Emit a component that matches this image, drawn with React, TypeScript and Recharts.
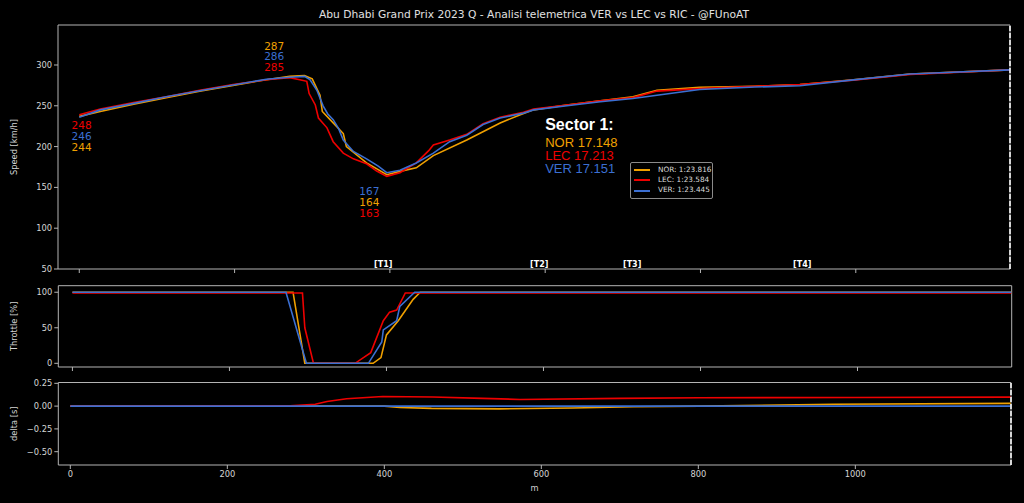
import React from 'react';
import { LineChart, Line, XAxis, YAxis, ReferenceArea, ReferenceLine, ReferenceDot, Legend } from 'recharts';

// driver colours
const NOR_COLOR = '#f0a000';
const LEC_COLOR = '#ee0000';
const VER_COLOR = '#3b6fd2';

const drivers = ['NOR', 'LEC', 'VER'];
const driverColors = [NOR_COLOR, LEC_COLOR, VER_COLOR];
const lapTimes = ['1:23.816', '1:23.584', '1:23.445'];
const sectorTimes = ['17.148', '17.213', '17.151'];

const distTicks = [0, 200, 400, 600, 800, 1000];
const speedTicks = [50, 100, 150, 200, 250, 300];
const throttleTicks = [0, 50, 100];
const deltaTicks = [-0.5, -0.25, 0, 0.25];

// [distance m, speed km/h]
const norSpeed = [
  [0, 237], [27, 243], [70, 252], [112, 260], [155, 268], [198, 275], [241, 282], [271, 286], [290, 287],
  [300, 283], [310, 263], [313, 243], [327, 229], [340, 216], [344, 200], [370, 180], [396, 165.5],
  [413, 169.6], [434, 174], [456, 189], [499, 208], [542, 229], [568, 239], [585, 245], [628, 251],
  [671, 256], [713, 261], [744, 269], [799, 272.7], [870, 274], [928, 276], [997, 282], [1070, 289], [1199, 294],
];
const lecSpeed = [
  [0, 239], [27, 246], [70, 254], [112, 261], [155, 269], [198, 276], [241, 282], [271, 284.5], [284, 282],
  [293, 280], [296, 265], [304, 251], [308, 235], [319, 223], [327, 206], [340, 192], [353, 185], [370, 179],
  [383, 170], [396, 163.5], [413, 168], [434, 180], [450, 195], [456, 202], [477, 208], [499, 215], [520, 228],
  [542, 236], [572, 242], [585, 246], [628, 251], [671, 256], [713, 260], [744, 268], [799, 271], [870, 274],
  [928, 276], [997, 281.5], [1070, 288.5], [1199, 294],
];
const verSpeed = [
  [0, 236], [27, 245], [70, 253], [112, 261], [155, 268.5], [198, 275.5], [241, 282.5], [271, 285], [290, 286],
  [297, 282], [306, 269], [314, 250], [320, 240], [327, 233], [334, 222], [340, 208], [353, 194], [370, 185],
  [385, 176], [396, 168], [413, 171], [434, 180], [456, 192], [477, 206], [499, 214], [520, 227], [542, 235],
  [572, 241], [585, 245], [628, 250], [671, 255], [713, 259], [744, 263], [799, 270], [870, 273], [928, 274.5],
  [997, 281.7], [1070, 289], [1199, 294],
];

// [distance m, throttle %]
const norThrottle = [[0, 100], [281, 100], [296, 0], [383, 0], [393, 8], [400, 40], [415, 60], [434, 90], [443, 100], [1196, 100]];
const lecThrottle = [[0, 99], [293, 99], [296, 50], [307, 0], [360, 0], [380, 15], [396, 60], [404, 72], [413, 75], [424, 99], [1196, 99]];
const verThrottle = [[0, 100], [272, 100], [298, 0], [377, 0], [394, 30], [396, 47], [413, 60], [417, 80], [436, 100], [1196, 100]];

// [distance m, delta s]
const norDelta = [[0, 0], [400, 0], [420, -0.015], [460, -0.025], [547, -0.03], [640, -0.02], [717, -0.007], [802, 0], [972, 0.02], [1198, 0.03]];
const lecDelta = [[0, 0], [280, 0.003], [312, 0.02], [327, 0.05], [352, 0.08], [398, 0.105], [462, 0.1], [525, 0.085], [573, 0.073], [700, 0.085], [802, 0.091], [1000, 0.095], [1198, 0.099]];
const verDelta = [[0, 0], [1198, 0]];

// corner speed callouts: distance, label anchor, speeds per driver
const calloutDist = [3, 251, 373.5];
const calloutY = [226, 323.6, 145];
const norCallout = [244, 287, 164];
const lecCallout = [248, 285, 163];
const verCallout = [246, 286, 167];

const turnLabels = ['[T1]', '[T2]', '[T3]', '[T4]'];
const turnDist = [391.5, 592.4, 712, 931];

const SECTOR_END = 1198.6;
const FONT = 'DejaVu Sans';
const TICK = { fill: '#d4d4d4', fontSize: 8.3, fontFamily: FONT };
const SPINE = '#b4b4b4';

const toPoints = (arr: number[][]) => arr.map(([d, v]) => ({ d, v }));

const speedSeries = [norSpeed, lecSpeed, verSpeed].map(toPoints);
const throttleSeries = [norThrottle, lecThrottle, verThrottle].map(toPoints);
const deltaSeries = [norDelta, lecDelta, verDelta].map(toPoints);

const fmtDelta = (v: number) => (v < 0 ? '\u2212' + Math.abs(v).toFixed(2) : v.toFixed(2));

const LegendBox = () => (
  <div
    style={{
      border: '1px solid #8a8a8a',
      borderRadius: 2,
      background: '#000',
      padding: '2px 3px 2px 3px',
      fontFamily: FONT,
      fontSize: 7.3,
      color: '#dcdcdc',
      lineHeight: '10.2px',
      width: 75,
      whiteSpace: 'nowrap',
    }}
  >
    {drivers.map((d, i) => (
      <div key={d} style={{ display: 'flex', alignItems: 'center' }}>
        <span style={{ display: 'inline-block', flexShrink: 0, width: 16, height: 2, background: driverColors[i], marginRight: 8 }} />
        <span>{`${d}: ${lapTimes[i]}`}</span>
      </div>
    ))}
  </div>
);

const yLabel = (value: string) => ({
  value,
  angle: -90,
  position: 'insideLeft' as const,
  offset: 6,
  style: { textAnchor: 'middle', fill: '#d4d4d4', fontSize: 8.3, fontFamily: FONT },
});

const Frame = ({ x, y }: { x: number[]; y: number[] }) => (
  <ReferenceArea x1={x[0]} x2={x[1]} y1={y[0]} y2={y[1]} fill="none" stroke={SPINE} strokeWidth={1} ifOverflow="visible" />
);

export default function App() {
  const speedX = [-27.4, SECTOR_END];
  const speedY = [50, 349];
  const thrX = [-18, 1196.4];
  const thrY = [-5.2, 109.2];
  const delX = [-15.3, 1198.3];
  const delY = [-0.646, 0.259];

  // stack each callout group by speed, fastest on top
  const callouts = calloutDist.flatMap((d, g) => {
    const entries = [norCallout[g], lecCallout[g], verCallout[g]]
      .map((v, i) => ({ v, color: driverColors[i] }))
      .sort((a, b) => b.v - a.v);
    return entries.map((e, k) => ({ d, y: calloutY[g] - k * 13.1, ...e, key: `${g}-${k}` }));
  });

  return (
    <div style={{ position: 'absolute', left: 0, top: 0, width: 1024, height: 503, background: '#000', overflow: 'hidden' }}>
      <div
        style={{
          position: 'absolute', top: 9, left: 58, width: 952, textAlign: 'center',
          fontFamily: FONT, fontSize: 10.7, lineHeight: '12px', color: '#e0e0e0',
        }}
      >
        Abu Dhabi Grand Prix 2023 Q - Analisi telemetrica VER vs LEC vs RIC - @FUnoAT
      </div>

      {/* speed */}
      <div style={{ position: 'absolute', top: 0, left: 0 }}>
        <LineChart width={1024} height={290} margin={{ top: 25, right: 14, bottom: 1, left: 8 }}>
          <XAxis dataKey="d" type="number" domain={speedX} ticks={distTicks} tickFormatter={() => ''}
            axisLine={false} tickLine={{ stroke: SPINE }} tickSize={4} height={20} allowDataOverflow />
          <YAxis type="number" domain={speedY} ticks={speedTicks} width={50} axisLine={false}
            tickLine={{ stroke: SPINE }} tickSize={4} tickMargin={2} tick={TICK} label={yLabel('Speed [km/h]')} allowDataOverflow />
          <Frame x={speedX} y={speedY} />
          {speedSeries.map((data, i) => (
            <Line key={drivers[i]} data={data} dataKey="v" name={drivers[i]} type="linear" stroke={driverColors[i]}
              strokeWidth={1.6} dot={false} isAnimationActive={false} />
          ))}
          <ReferenceLine x={SECTOR_END} stroke="#fff" strokeWidth={1.5} strokeDasharray="5 2" ifOverflow="visible" />
          {callouts.map((c) => (
            <ReferenceDot key={c.key} x={c.d} y={c.y} r={0} ifOverflow="visible"
              shape={(p: any) => (
                <text x={p.cx} y={p.cy} fill={c.color} fontSize={10.5} fontFamily={FONT} textAnchor="middle" dominantBaseline="central">
                  {c.v}
                </text>
              )} />
          ))}
          {turnLabels.map((t, i) => (
            <ReferenceDot key={t} x={turnDist[i]} y={50} r={0} ifOverflow="visible"
              shape={(p: any) => (
                <text x={p.cx} y={p.cy - 2.5} fill="#fff" fontSize={8} fontWeight="bold" fontFamily={FONT} textAnchor="middle">
                  {t}
                </text>
              )} />
          ))}
          <ReferenceDot x={600} y={227.5} r={0} ifOverflow="visible"
            shape={(p: any) => (
              <g fontFamily="Liberation Sans">
                <text x={p.cx} y={p.cy} fill="#fff" fontSize={16} fontWeight="bold" dominantBaseline="central">Sector 1:</text>
                {drivers.map((d, i) => (
                  <text key={d} x={p.cx} y={p.cy + 18 + i * 13.3} fill={driverColors[i]} fontSize={13} dominantBaseline="central">
                    {`${d} ${sectorTimes[i]}`}
                  </text>
                ))}
              </g>
            )} />
          <Legend content={<LegendBox />} layout="horizontal" verticalAlign="middle" align="center"
            wrapperStyle={{ left: 630, top: 162, width: 84 }} />
        </LineChart>
      </div>

      {/* throttle */}
      <div style={{ position: 'absolute', top: 270, left: 0 }}>
        <LineChart width={1024} height={120} margin={{ top: 15.7, right: 12.3, bottom: 3, left: 8 }}>
          <XAxis dataKey="d" type="number" domain={thrX} ticks={distTicks} tickFormatter={() => ''}
            axisLine={false} tickLine={{ stroke: SPINE }} tickSize={4} height={20} allowDataOverflow />
          <YAxis type="number" domain={thrY} ticks={throttleTicks} width={50.3} axisLine={false}
            tickLine={{ stroke: SPINE }} tickSize={4} tickMargin={2} tick={TICK} label={yLabel('Throttle [%]')} allowDataOverflow />
          <Frame x={thrX} y={thrY} />
          {throttleSeries.map((data, i) => (
            <Line key={drivers[i]} data={data} dataKey="v" name={drivers[i]} type="linear" stroke={driverColors[i]}
              strokeWidth={1.6} dot={false} isAnimationActive={false} />
          ))}
        </LineChart>
      </div>

      {/* delta */}
      <div style={{ position: 'absolute', top: 370, left: 0 }}>
        <LineChart width={1024} height={133} margin={{ top: 12.5, right: 13, bottom: 8, left: 8 }}>
          <XAxis dataKey="d" type="number" domain={delX} ticks={distTicks} tick={TICK}
            axisLine={false} tickLine={{ stroke: SPINE }} tickSize={4} tickMargin={2} height={30} allowDataOverflow
            label={{ value: 'm', position: 'insideBottom', offset: 4, fill: '#d4d4d4', fontSize: 8.3, fontFamily: FONT }} />
          <YAxis type="number" domain={delY} ticks={deltaTicks} width={50.3} axisLine={false} tickFormatter={fmtDelta}
            tickLine={{ stroke: SPINE }} tickSize={4} tickMargin={2} tick={TICK} label={yLabel('delta [s]')} allowDataOverflow />
          <Frame x={delX} y={delY} />
          {deltaSeries.map((data, i) => (
            <Line key={drivers[i]} data={data} dataKey="v" name={drivers[i]} type="linear" stroke={driverColors[i]}
              strokeWidth={1.6} dot={false} isAnimationActive={false} />
          ))}
          <ReferenceLine x={1198.3} stroke="#fff" strokeWidth={1.5} strokeDasharray="5 2" ifOverflow="visible" />
        </LineChart>
      </div>
    </div>
  );
}
